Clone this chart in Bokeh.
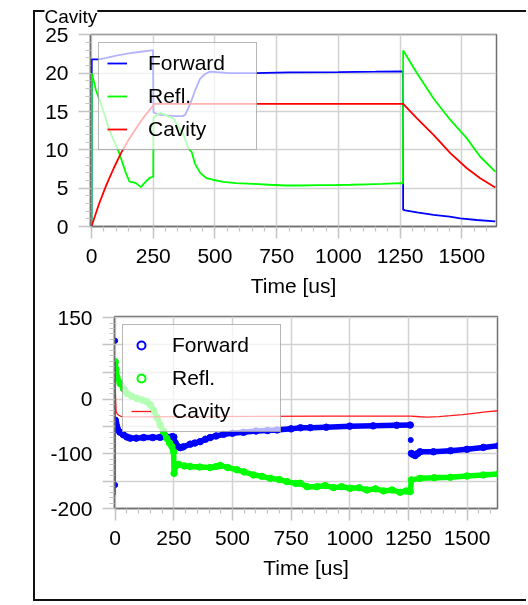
from bokeh.plotting import figure
from bokeh.models import Range1d, FixedTicker, Legend, LegendItem, Div
from bokeh.embed import file_html
from bokeh.resources import INLINE

# ---------------- data: top panel (amplitude) ----------------
fwd_t = [0, 1, 30, 60, 100, 150, 200, 249, 251, 270, 304, 340, 370, 380, 400, 420, 440, 460, 480, 520, 560,
         650, 800, 1000, 1150, 1261, 1262, 1270, 1318, 1385, 1450, 1493, 1560, 1635]
fwd_v = [0, 21.8, 21.8, 22.0, 22.3, 22.6, 22.8, 23.0, 14.9, 14.6, 14.5, 14.4, 14.4, 14.6, 16.0, 17.8, 19.3, 19.9,
         20.2, 20.1, 20.0, 20.0, 20.1, 20.15, 20.2, 20.25, 2.2, 2.1, 1.83, 1.53, 1.28, 1.05, 0.85, 0.66]

refl_t = [0, 1, 18, 45, 72, 112, 139, 153, 180, 200, 214, 234, 250, 251, 265, 281, 308, 331, 372, 392, 406, 419,
          440, 466, 491, 534, 585, 653, 720, 788, 850, 920, 980, 1050, 1115, 1180, 1250, 1261, 1262, 1318, 1385,
          1453, 1520, 1574, 1635]
refl_v = [0, 20.0, 17.8, 15.4, 12.6, 9.6, 7.0, 5.9, 5.66, 5.14, 5.66, 6.3, 6.5, 14.1, 14.6, 14.8, 14.4, 14.1, 12.0,
          10.2, 9.7, 8.2, 7.0, 6.3, 6.1, 5.83, 5.66, 5.57, 5.45, 5.35, 5.35, 5.4, 5.4, 5.45, 5.5, 5.55, 5.66, 5.6,
          22.96, 20.0, 16.7, 13.9, 11.5, 9.1, 7.17]

cav_t = [0, 30, 60, 90, 120, 150, 180, 210, 240, 255, 400, 600, 800, 1000, 1200, 1262, 1318, 1385, 1453, 1520,
         1574, 1635]
cav_v = [0, 2.9, 5.4, 7.6, 9.6, 11.3, 12.8, 14.2, 15.4, 16.0, 16.0, 16.0, 16.0, 16.0, 16.0, 16.0, 14.1, 11.96,
         9.57, 7.6, 6.3, 5.09]

# ---------------- data: bottom panel (phase) ----------------
fwdp_on_t = [0, 2, 5, 10, 20, 35, 50, 64, 90, 121, 160, 192, 220, 242, 250, 256, 265, 277, 290, 320, 340, 362,
             385, 405, 430, 462, 500, 547, 600, 650, 690, 750, 790, 832, 900, 1000, 1100, 1200, 1258]
fwdp_on_v = [-38, -42, -48, -55, -60, -65, -69, -71, -71, -70, -70, -69.6, -69, -68.3, -69, -80, -86, -88.5, -87,
             -82, -80, -77.5, -73, -70, -67, -64, -62, -60.4, -58, -57, -56, -54, -52, -51.8, -51, -49, -48.5,
             -47.5, -47]
fwdp_off_t = [1263, 1270, 1279, 1290, 1300, 1357, 1430, 1500, 1570, 1635]
fwdp_off_v = [-99, -101, -103, -99, -96, -96, -94, -91.5, -88, -85]
fwdp_single_t = [0, 0, 1260]
fwdp_single_v = [107.5, -157, -74.4]

reflp_t = [0, 3, 7, 21, 35, 50, 70, 93, 115, 135, 150, 163, 178, 192, 206, 220, 232, 242, 249, 251, 258, 270,
           295, 320, 360, 405, 430, 448, 480, 519, 550, 590, 625, 661, 700, 732, 770, 789, 818, 860, 895, 931,
           965, 1002, 1040, 1073, 1110, 1144, 1180, 1215, 1240, 1258, 1263, 1300, 1360, 1429, 1500, 1570, 1635]
reflp_v = [69, 55, 41.6, 29.3, 20, 11, 6, 1.8, -1, -4.2, -10, -19.4, -33, -47, -59, -71.4, -80, -86.6, -95.8,
           -135.5, -122, -119, -122, -123, -124, -125, -123, -121, -125, -129, -133, -138.5, -141, -144.7, -147,
           -150.7, -154, -153.8, -160, -160, -158, -161.7, -160, -163, -162, -166, -164, -167.8, -166, -170.3,
           -168, -169, -147.6, -144.7, -143.5, -142.8, -140.5, -138.5, -136.6]

cavp_t = [0, 0, 0, 2, 4, 8, 15, 25, 40, 60, 100, 300, 600, 900, 1200, 1260, 1300, 1329, 1380, 1429, 1480, 1528,
          1580, 1635]
cavp_v = [-175, 69, 20, -5, -22.5, -26, -29, -31, -31.7, -32, -32, -31.5, -31, -30.5, -30.5, -30.5, -31.8, -32.3,
          -31.5, -29.9, -28, -25.6, -23, -20.7]

# ---------------- ticks ----------------
x_major = [0, 250, 500, 750, 1000, 1250, 1500]
x_minor = list(range(0, 1650, 50))
y1_major = [0, 5, 10, 15, 20, 25]
y1_minor = list(range(0, 26, 1))
y2_major = [-200, -150, -100, -50, 0, 50, 100, 150]
y2_minor = list(range(-200, 160, 10))
y2_labels = {-200: "-200", -150: "", -100: "-100", -50: "", 0: "0", 50: "", 100: "", 150: "150"}

BLUE = "#0000ff"
GREEN = "#00ff00"
RED = "#ff0000"
FONT = "Liberation Sans"
FS = "21px"
AXIS_C = "#707070"
TICK_C = "#c4c4c4"
GRID_C = "#d2d2d2"


def style(p, ymajor, yminor, overrides=None):
    p.background_fill_color = "white"
    p.border_fill_alpha = 0
    p.outline_line_color = AXIS_C
    p.outline_line_width = 1.5
    xt = FixedTicker(ticks=x_major, minor_ticks=x_minor)
    yt = FixedTicker(ticks=ymajor, minor_ticks=yminor)
    p.xaxis.ticker = xt
    p.yaxis.ticker = yt
    p.xgrid.ticker = xt
    p.ygrid.ticker = yt
    if overrides:
        p.yaxis.major_label_overrides = overrides
    for ax in (p.xaxis[0], p.yaxis[0]):
        ax.axis_line_color = AXIS_C
        ax.axis_line_width = 1.5
        ax.major_tick_in = 0
        ax.major_tick_out = 12
        ax.minor_tick_in = 0
        ax.minor_tick_out = 5
        ax.major_tick_line_color = TICK_C
        ax.major_tick_line_width = 1.5
        ax.minor_tick_line_color = TICK_C
        ax.minor_tick_line_width = 1.2
        ax.major_label_text_font = FONT
        ax.major_label_text_font_size = FS
        ax.major_label_text_color = "black"
        ax.major_label_standoff = 10
    p.xaxis.axis_label = "Time [us]"
    p.xaxis.axis_label_text_font = FONT
    p.xaxis.axis_label_text_font_size = FS
    p.xaxis.axis_label_text_font_style = "normal"
    p.xaxis.axis_label_text_color = "black"
    p.xaxis.axis_label_standoff = 8
    for g in (p.xgrid[0], p.ygrid[0]):
        g.grid_line_color = GRID_C
        g.grid_line_width = 1.5


def make_legend(items):
    return Legend(items=items, location="top_left", margin=8, padding=8, spacing=9,
                  glyph_width=20, glyph_height=20, label_height=24, label_width=100,
                  label_standoff=21, label_text_font=FONT, label_text_font_size=FS,
                  label_text_color="black",
                  border_line_color=AXIS_C, border_line_width=1.5,
                  background_fill_color="white", background_fill_alpha=0.7)


# ---------------- group box (frame lines only) ----------------
box = Div(text='<div style="position:fixed; left:33px; top:10px; width:493px; height:591px; '
               'border-left:2px solid #111; border-top:2px solid #111; border-bottom:2px solid #111; '
               'border-right:none; z-index:-1;"></div>', margin=0, width=0, height=0,
          styles={"position": "absolute", "top": "0px", "left": "0px"})

# ---------------- top figure ----------------
p1 = figure(title="Cavity", frame_width=406, frame_height=192, min_border_left=90, min_border_right=24,
            min_border_top=33, min_border_bottom=75, x_range=Range1d(-4, 1640),
            y_range=Range1d(0, 25.05), output_backend="svg", toolbar_location=None, tools="")
style(p1, y1_major, y1_minor)
p1.title.align = "left"
p1.title.offset = -46
p1.title.standoff = 11
p1.title.vertical_align = "top"
p1.title.text_font = FONT
p1.title.text_font_size = "19px"
p1.title.text_font_style = "normal"
p1.title.text_color = "black"
p1.title.background_fill_color = "white"

r_f = p1.line(fwd_t, fwd_v, line_color=BLUE, line_width=1.8)
r_r = p1.line(refl_t, refl_v, line_color=GREEN, line_width=1.8)
r_c = p1.line(cav_t, cav_v, line_color=RED, line_width=1.8)

p1.add_layout(make_legend([LegendItem(label="Forward", renderers=[r_f]),
                           LegendItem(label="Refl.", renderers=[r_r]),
                           LegendItem(label="Cavity", renderers=[r_c])]))

# ---------------- bottom figure ----------------
p2 = figure(frame_width=383, frame_height=192, min_border_left=114, min_border_right=24,
            min_border_top=15, min_border_bottom=97, x_range=Range1d(-3, 1630),
            y_range=Range1d(-200, 152), output_backend="svg", toolbar_location=None, tools="")
style(p2, y2_major, y2_minor, y2_labels)

p2.line(fwdp_on_t, fwdp_on_v, line_color=BLUE, line_width=5.5, line_join="round", line_cap="round")
p2.scatter(fwdp_on_t, fwdp_on_v, marker="circle", size=6.5, color=BLUE)
p2.line(fwdp_off_t, fwdp_off_v, line_color=BLUE, line_width=5.5, line_join="round", line_cap="round")
p2.scatter(fwdp_off_t, fwdp_off_v, marker="circle", size=6.5, color=BLUE)
p2.scatter(fwdp_single_t, fwdp_single_v, marker="circle", size=5, color=BLUE)
p2.line(reflp_t, reflp_v, line_color=GREEN, line_width=5.5, line_join="round", line_cap="round")
p2.scatter(reflp_t, reflp_v, marker="circle", size=6.5, color=GREEN)
r_cp = p2.line(cavp_t, cavp_v, line_color=RED, line_width=1.3, line_alpha=0.9)

# hollow-circle legend glyphs (zero-size markers on the plotted points)
leg_f = p2.scatter(fwdp_on_t, fwdp_on_v, marker="circle", size=0, fill_alpha=0, line_color=BLUE, line_width=2)
leg_r = p2.scatter(reflp_t, reflp_v, marker="circle", size=0, fill_alpha=0, line_color=GREEN, line_width=2)
p2.add_layout(make_legend([LegendItem(label="Forward", renderers=[leg_f]),
                           LegendItem(label="Refl.", renderers=[leg_r]),
                           LegendItem(label="Cavity", renderers=[r_cp])]))

open("out.html", "w").write(file_html([box, p1, p2], INLINE))
